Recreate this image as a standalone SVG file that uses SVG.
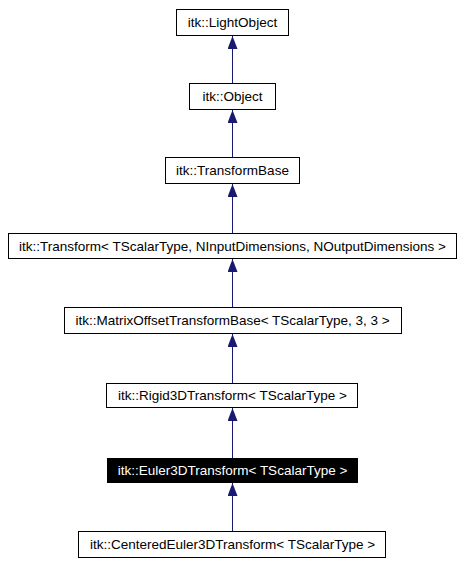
<svg xmlns="http://www.w3.org/2000/svg" width="463" height="564" viewBox="0 0 463 564">
<defs>
<marker id="ah" markerWidth="13" markerHeight="10" refX="13" refY="5" orient="auto" markerUnits="userSpaceOnUse" viewBox="0 0 13 10">
<path d="M0,0 L13,5 L0,10 Z" fill="#191970"/>
</marker>
</defs>
<style>
.box{fill:#ffffff;stroke:#000000;stroke-width:1}
.hl{fill:#000000;stroke:#000000;stroke-width:1}
.t{font-family:"Liberation Sans",Arial,sans-serif;font-size:13.5px;text-anchor:middle;fill:#000000}
.tw{font-family:"Liberation Sans",Arial,sans-serif;font-size:13.5px;text-anchor:middle;fill:#ffffff}
.e{stroke:#191970;stroke-width:1;fill:none;marker-end:url(#ah)}
</style>
<rect x="0" y="0" width="463" height="564" fill="#ffffff"/>
<g id="edges">
<path class="e" d="M232.5,83 L232.5,36"/>
<path class="e" d="M232.5,157 L232.5,110"/>
<path class="e" d="M232.5,233 L232.5,184"/>
<path class="e" d="M232.5,307 L232.5,259"/>
<path class="e" d="M232.5,383 L232.5,334"/>
<path class="e" d="M232.5,458 L232.5,408"/>
<path class="e" d="M232.5,531 L232.5,483"/>
</g>
<g id="n_lightobject">
<rect class="box" x="176.5" y="9.5" width="112" height="26"/>
<text class="t" x="232.5" y="27">itk::LightObject</text>
</g>
<g id="n_object">
<rect class="box" x="189.5" y="83.5" width="86" height="26"/>
<text class="t" x="232.5" y="101">itk::Object</text>
</g>
<g id="n_transformbase">
<rect class="box" x="165.5" y="157.5" width="134" height="26"/>
<text class="t" x="232.5" y="175">itk::TransformBase</text>
</g>
<g id="n_transform">
<rect class="box" x="8.5" y="233.5" width="448" height="25"/>
<text class="t" x="232.5" y="250.5">itk::Transform&lt; TScalarType, NInputDimensions, NOutputDimensions &gt;</text>
</g>
<g id="n_matrixoffset">
<rect class="box" x="64.5" y="307.5" width="337" height="26"/>
<text class="t" x="232.5" y="325">itk::MatrixOffsetTransformBase&lt; TScalarType, 3, 3 &gt;</text>
</g>
<g id="n_rigid3d">
<rect class="box" x="106.5" y="383.5" width="251" height="24"/>
<text class="t" x="232.5" y="400">itk::Rigid3DTransform&lt; TScalarType &gt;</text>
</g>
<g id="n_euler3d">
<rect class="hl" x="107.5" y="458.5" width="250" height="24"/>
<text class="tw" x="232.5" y="475">itk::Euler3DTransform&lt; TScalarType &gt;</text>
</g>
<g id="n_centeredeuler3d">
<rect class="box" x="78.5" y="531.5" width="307" height="26"/>
<text class="t" x="232.5" y="549">itk::CenteredEuler3DTransform&lt; TScalarType &gt;</text>
</g>
</svg>
